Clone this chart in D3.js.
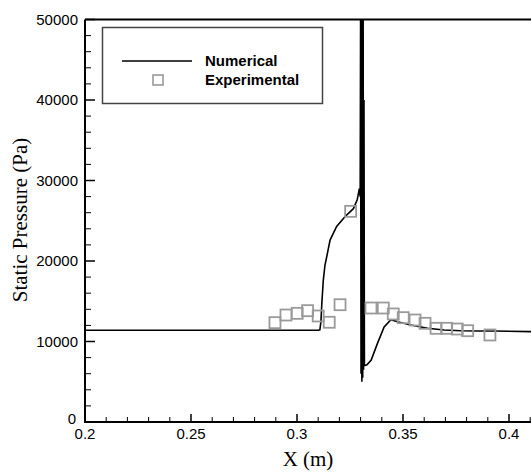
<!DOCTYPE html>
<html>
<head>
<meta charset="utf-8">
<script src="https://d3js.org/d3.v7.min.js"></script>
<style>
    body { margin: 0; background: #fff; }
    svg { display: block; }
</style>
</head>
<body>
<div id="my_dataviz"></div>
<script>
// data
var numX = [0.2, 0.310, 0.3108, 0.3113, 0.3117, 0.3124, 0.3132, 0.3140, 0.3156, 0.3187, 0.3226, 0.3266, 0.3284, 0.3294, 0.3298,
    0.3300, 0.3302, 0.3304, 0.3306, 0.3308, 0.3310, 0.3312, 0.3314, 0.3316, 0.3318,
    0.3330, 0.3350, 0.3380, 0.3411, 0.3443, 0.3474, 0.3537, 0.3616, 0.3694, 0.3774, 0.3852, 0.3931, 0.4111, 0.415];
var numY = [11400, 11400, 11450, 12500, 14700, 17600, 19500, 20500, 22600, 24300, 25500, 26500, 27600, 29000, 28000,
    51000, 6000, 51000, 5000, 51000, 5500, 51000, 6500, 40000, 7000,
    7100, 7700, 9800, 11800, 12700, 12450, 12050, 11650, 11430, 11340, 11300, 11300, 11220, 11200];

var expX = [0.2896, 0.2948, 0.3001, 0.3050, 0.3100, 0.3152, 0.3203, 0.3253, 0.3349, 0.3407, 0.3454, 0.3501,
    0.3557, 0.3604, 0.3656, 0.3706, 0.3756, 0.3805, 0.3910];
var expY = [12340, 13290, 13500, 13830, 13170, 12390, 14570, 26170, 14160, 14160, 13420, 12960,
    12670, 12260, 11640, 11640, 11550, 11340, 10810];

var xTicks = [0.2, 0.25, 0.3, 0.35, 0.4];
var yTicks = [0, 10000, 20000, 30000, 40000, 50000];

var W = 531, H = 472;
var plotLeft = 85, plotTop = 19.5, plotBottom = 422;
var plotRight = 85 + 0.215 * 2120;

document.addEventListener('DOMContentLoaded', function () {
    var svg = d3.select("#my_dataviz")
        .append("svg")
        .attr("width", W)
        .attr("height", H);

    const x = d3.scaleLinear()
        .domain([0.2, 0.415])
        .range([plotLeft, plotRight]);
    const y = d3.scaleLinear()
        .domain([0, 50000])
        .range([plotBottom, plotTop]);

    svg.append("clipPath")
        .attr("id", "clip")
        .append("rect")
        .attr("x", plotLeft)
        .attr("y", plotTop)
        .attr("width", plotRight - plotLeft)
        .attr("height", plotBottom - plotTop);

    // numerical line
    var pts = numX.map((d, i) => [d, numY[i]]);
    svg.append("path")
        .datum(pts)
        .attr("clip-path", "url(#clip)")
        .attr("fill", "none")
        .attr("stroke", "#000")
        .attr("stroke-width", 1.6)
        .attr("d", d3.line().x(d => x(d[0])).y(d => y(d[1])));

    // experimental squares
    var sq = 11;
    svg.append("g")
        .selectAll("rect")
        .data(expX.map((d, i) => [d, expY[i]]))
        .join("rect")
        .attr("x", d => x(d[0]) - sq / 2)
        .attr("y", d => y(d[1]) - sq / 2)
        .attr("width", sq)
        .attr("height", sq)
        .attr("fill", "none")
        .attr("stroke", "#9a9a9a")
        .attr("stroke-width", 1.8);

    var sans = "Liberation Sans, Arial, sans-serif";
    var serif = "Liberation Serif, Times New Roman, serif";

    // X axis (ticks pointing inward)
    var minorX = d3.range(0.21, 0.415, 0.01).filter(v => Math.abs(v * 20 - Math.round(v * 20)) > 0.01);
    var gx = svg.append("g").attr("transform", `translate(0,${plotBottom})`);
    gx.append("line").attr("x1", plotLeft).attr("x2", W).attr("stroke", "#000").attr("stroke-width", 2);
    gx.selectAll(".maj").data(xTicks).join("line")
        .attr("x1", d => x(d)).attr("x2", d => x(d))
        .attr("y1", 0).attr("y2", -8)
        .attr("stroke", "#000").attr("stroke-width", 1.5);
    gx.selectAll(".min").data(minorX).join("line")
        .attr("x1", d => x(d)).attr("x2", d => x(d))
        .attr("y1", 0).attr("y2", -5)
        .attr("stroke", "#000").attr("stroke-width", 1);
    gx.selectAll("text").data(xTicks).join("text")
        .attr("x", d => x(d))
        .attr("y", 17)
        .attr("text-anchor", "middle")
        .style("font-family", sans)
        .style("font-size", "15px")
        .text(d => d3.format("")(d));

    // Y axis
    var minorY = d3.range(2000, 50000, 2000).filter(v => v % 10000 != 0);
    var gy = svg.append("g").attr("transform", `translate(${plotLeft},0)`);
    gy.append("line").attr("y1", plotTop).attr("y2", plotBottom + 1).attr("stroke", "#000").attr("stroke-width", 2);
    gy.selectAll(".maj").data(yTicks).join("line")
        .attr("y1", d => y(d)).attr("y2", d => y(d))
        .attr("x1", 0).attr("x2", 10)
        .attr("stroke", "#000").attr("stroke-width", 1.5);
    gy.selectAll(".min").data(minorY).join("line")
        .attr("y1", d => y(d)).attr("y2", d => y(d))
        .attr("x1", 0).attr("x2", 6)
        .attr("stroke", "#000").attr("stroke-width", 1);
    gy.selectAll("text").data(yTicks).join("text")
        .attr("x", d => d == 0 ? -9 : -7)
        .attr("y", d => y(d) + (d == 0 ? 2 : 5))
        .attr("text-anchor", "end")
        .style("font-family", sans)
        .style("font-size", "15px")
        .text(d => d);

    // top border
    svg.append("line")
        .attr("x1", plotLeft).attr("x2", W)
        .attr("y1", plotTop).attr("y2", plotTop)
        .attr("stroke", "#000").attr("stroke-width", 2);

    // axis titles
    svg.append("text")
        .attr("x", 308)
        .attr("y", 466)
        .attr("text-anchor", "middle")
        .style("font-family", serif)
        .style("font-size", "21px")
        .text("X (m)");
    svg.append("text")
        .attr("transform", "translate(27,220) rotate(-90)")
        .attr("text-anchor", "middle")
        .style("font-family", serif)
        .style("font-size", "21px")
        .text("Static Pressure (Pa)");

    // legend
    var lg = svg.append("g");
    lg.append("rect")
        .attr("x", 102.5).attr("y", 27.5)
        .attr("width", 220).attr("height", 76)
        .attr("fill", "#fff")
        .attr("stroke", "#444").attr("stroke-width", 1.5);
    lg.append("line")
        .attr("x1", 122).attr("x2", 192)
        .attr("y1", 61).attr("y2", 61)
        .attr("stroke", "#000").attr("stroke-width", 1.6);
    lg.append("rect")
        .attr("x", 153).attr("y", 75)
        .attr("width", 10).attr("height", 10)
        .attr("fill", "none")
        .attr("stroke", "#9a9a9a").attr("stroke-width", 1.6);
    lg.append("text")
        .attr("x", 205).attr("y", 66)
        .style("font-family", sans)
        .style("font-size", "15px")
        .style("font-weight", "bold")
        .text("Numerical");
    lg.append("text")
        .attr("x", 205).attr("y", 85)
        .style("font-family", sans)
        .style("font-size", "15px")
        .style("font-weight", "bold")
        .text("Experimental");
});
</script>
</body>
</html>
